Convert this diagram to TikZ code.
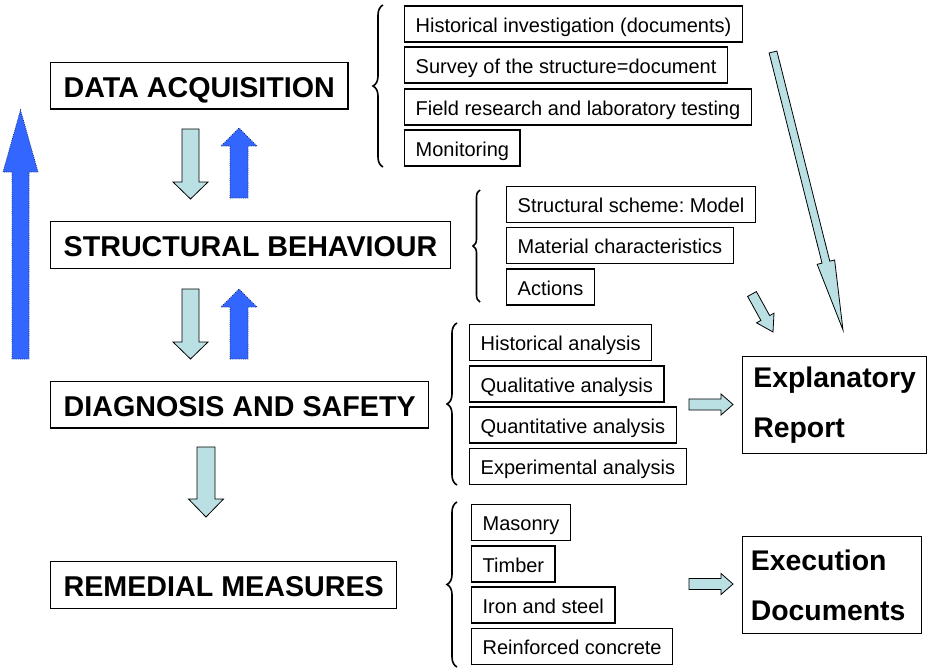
\documentclass[tikz,border=0pt]{standalone}
\usepackage{fontspec}
\setmainfont{Liberation Sans}
\usetikzlibrary{decorations.pathreplacing}
\frenchspacing

\definecolor{arrowcyan}{RGB}{187,224,227}
\definecolor{arrowblue}{RGB}{51,102,255}

\tikzset{
    mainbox/.style={draw, line width=1pt, anchor=west, inner xsep=9.75pt, minimum height=35pt,
        text height=20pt, text depth=2.75pt, font=\bfseries\fontsize{21.5}{25}\selectfont},
    itembox/.style={draw, line width=1pt, anchor=west, inner xsep=8.25pt, minimum height=27pt,
        text height=14pt, text depth=2pt, font=\fontsize{15}{18}\selectfont},
    resultbox/.style={draw, line width=1pt, anchor=north west, align=left, text width=122pt,
        minimum height=72.75pt, font=\bfseries\fontsize{21.3}{37.5}\selectfont},
    lightarrow/.style={fill=arrowcyan, draw=black, line width=0.6pt, line join=miter},
    bluearrow/.style={fill=arrowblue, draw=arrowblue!45!black, densely dotted, line width=0.6pt},
    bracket/.style={decorate, decoration={brace, amplitude=#1}, line width=1.2pt}
}

% #1 style, #2 x, #3 y, #4 angle, #5 length, #6 shaft half width, #7 head half width, #8 head length
\newcommand{\fatarrow}[8]{%
    \begin{scope}[shift={(#2,#3)}, rotate=#4]
        \draw[#1] (0,-#6) -- ({#5-#8},-#6) -- ({#5-#8},-#7) -- (#5,0)
            -- ({#5-#8},#7) -- ({#5-#8},#6) -- (0,#6) -- cycle;
    \end{scope}}

\begin{document}
\begin{tikzpicture}[x=0.75pt, y=-0.75pt]
        \useasboundingbox (0,0) rectangle (927,668);

        \node[mainbox] (dataacq) at (50,85.5) {DATA ACQUISITION};
        \node[mainbox] (structbeh) at (50,245) {STRUCTURAL BEHAVIOUR};
        \node[mainbox] (diagnosis) at (50,404.5) {DIAGNOSIS AND SAFETY};
        \node[mainbox] (remedial) at (50,585) {REMEDIAL MEASURES};

        \node[itembox] (hist) at (404,24) {Historical investigation (documents)};
        \node[itembox] (survey) at (404,65) {Survey of the structure=document};
        \node[itembox] (field) at (404,107) {Field research and laboratory testing};
        \node[itembox] (monitor) at (404,148) {Monitoring};

        \node[itembox] (scheme) at (506,204.5) {Structural scheme: Model};
        \node[itembox] (material) at (506,245.5) {Material characteristics};
        \node[itembox] (actions) at (506,287) {Actions};

        \node[itembox] (histan) at (469,342.5) {Historical analysis};
        \node[itembox] (qualan) at (469,384) {Qualitative analysis};
        \node[itembox] (quantan) at (469,425) {Quantitative analysis};
        \node[itembox] (expan) at (469,466.5) {Experimental analysis};

        \node[itembox] (masonry) at (471,522.5) {Masonry};
        \node[itembox] (timber) at (471,564) {Timber};
        \node[itembox] (iron) at (471,605) {Iron and steel};
        \node[itembox] (concrete) at (471,646.5) {Reinforced concrete};

        \node[resultbox, minimum width=138pt] (report) at (742,356) {Explanatory\\Report};
        \node[resultbox, minimum width=134.25pt, inner xsep=6pt] (execution) at (742,536) {Execution\\Documents};

        \draw[bracket=7.5pt] (383,167) -- (383,5);
        \draw[bracket=5.25pt] (480,302) -- (480,190);
        \draw[bracket=7.5pt] (457,485) -- (457,323);
        \draw[bracket=7.5pt] (457,667) -- (457,502);

        \fatarrow{bluearrow}{20.5}{359}{90}{249}{8.5}{17.5}{62}
        \fatarrow{lightarrow}{190.5}{129}{-90}{70}{8.5}{17.5}{17}
        \fatarrow{bluearrow}{239}{198}{90}{70}{9}{18}{18}
        \fatarrow{lightarrow}{190.5}{289}{-90}{70}{8.5}{17.5}{17}
        \fatarrow{bluearrow}{239}{359}{90}{70}{9}{18}{18}
        \fatarrow{lightarrow}{206}{447}{-90}{70}{9}{17.5}{18}

        \fatarrow{lightarrow}{689}{404.5}{0}{44}{5.5}{10.5}{12}
        \fatarrow{lightarrow}{689}{584}{0}{44}{5.5}{10.5}{12}
        \fatarrow{lightarrow}{773}{52}{-75.87}{286.7}{4}{9}{70}
        \fatarrow{lightarrow}{752}{294}{-61.07}{43.4}{5}{10}{16}
\end{tikzpicture}
\end{document}
